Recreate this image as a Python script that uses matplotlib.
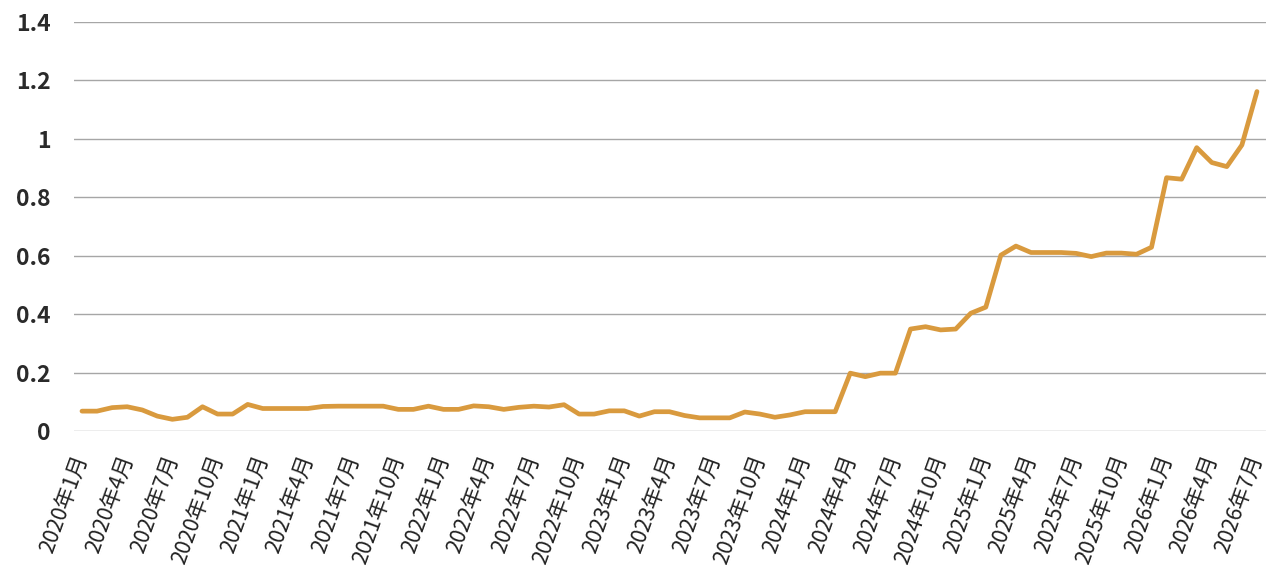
import matplotlib
matplotlib.use("Agg")
import matplotlib.pyplot as plt

plt.rcParams['font.family'] = ['Noto Sans CJK JP', 'DejaVu Sans']

# Monthly series 2020-01 .. 2026-07
years = list(range(2020, 2027))
months = [f"{y}年{m}月" for y in years for m in range(1, 13)][:79]
values = [
    0.068, 0.068, 0.080, 0.083, 0.072, 0.051, 0.040, 0.047, 0.083, 0.058, 0.058, 0.091,  # 2020
    0.077, 0.077, 0.077, 0.077, 0.084, 0.085, 0.085, 0.085, 0.085, 0.074, 0.074, 0.085,  # 2021
    0.074, 0.074, 0.086, 0.083, 0.074, 0.081, 0.085, 0.082, 0.090, 0.058, 0.058, 0.069,  # 2022
    0.069, 0.051, 0.066, 0.066, 0.053, 0.045, 0.045, 0.045, 0.065, 0.058, 0.047, 0.055,  # 2023
    0.066, 0.066, 0.066, 0.198, 0.186, 0.198, 0.198, 0.349, 0.357, 0.346, 0.349, 0.403,  # 2024
    0.424, 0.602, 0.633, 0.611, 0.611, 0.611, 0.608, 0.597, 0.609, 0.609, 0.605, 0.629,  # 2025
    0.867, 0.862, 0.970, 0.919, 0.905, 0.979, 1.162,                                      # 2026
]
y_ticks = [0, 0.2, 0.4, 0.6, 0.8, 1.0, 1.2, 1.4]
y_labels = ["0", "0.2", "0.4", "0.6", "0.8", "1", "1.2", "1.4"]

fig = plt.figure(figsize=(12.8, 5.8), dpi=100)
ax = fig.add_axes([74/1280, 1 - 431/580, (1266-74)/1280, (431-22)/580])

x = list(range(len(values)))
ax.plot(x, values, color='#D99A3E', linewidth=3.4, solid_joinstyle='round',
        solid_capstyle='round', zorder=3)

ax.set_xlim(-0.53, 78.6)
ax.set_ylim(0, 1.4)
ax.set_yticks(y_ticks)
ax.set_yticklabels(y_labels, fontsize=16.5, fontweight='bold', color='#2a2a2a')
ax.yaxis.grid(True, color='#A6A6A6', linewidth=1.0)
ax.set_axisbelow(True)

tick_pos = x[::3]
ax.set_xticks(tick_pos)
ax.set_xticklabels(months[::3], rotation=70, ha='right', va='center',
                   rotation_mode='anchor', fontsize=15.5, color='#222222')

ax.tick_params(axis='both', length=0)
ax.tick_params(axis='y', pad=17)
ax.tick_params(axis='x', pad=18)
for s in ax.spines.values():
    s.set_visible(False)

fig.savefig("out.png", dpi=100)
